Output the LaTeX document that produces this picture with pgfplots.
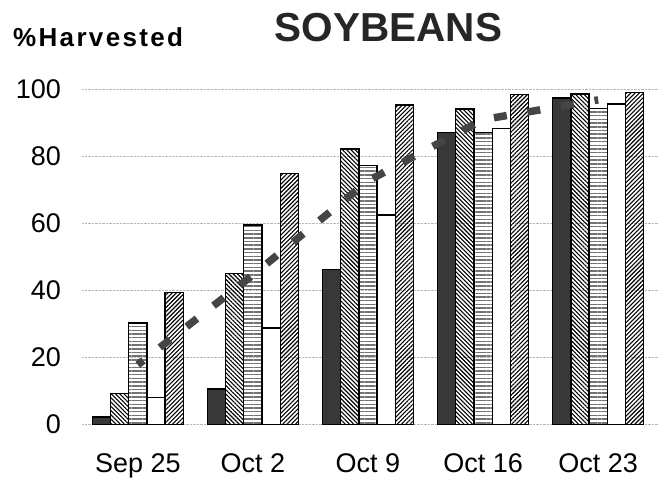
\documentclass[border=0pt]{standalone}
\usepackage{pgfplots}
\pgfplotsset{compat=1.18}
\usepackage{fontspec}
\setmainfont{Liberation Sans}
\usetikzlibrary{patterns.meta}
\definecolor{darkbar}{gray}{0.22}
\definecolor{trend}{gray}{0.27}
\begin{document}
\begin{tikzpicture}
\useasboundingbox (0pt,0pt) rectangle (664pt,482pt);
\node[anchor=base, inner sep=0pt, font=\fontsize{40.5}{45}\selectfont\bfseries, text=black!85] at (388.5pt,440.3pt) {SOYBEANS};
\node[anchor=base west, inner sep=0pt, font=\fontsize{26}{28}\selectfont\bfseries\addfontfeature{LetterSpace=9}] at (13pt,435pt) {\%Harvested};
\begin{axis}[
  at={(82pt,57.7pt)}, anchor=south west,
  scale only axis, width=576pt, height=334.8pt,
  xmin=-0.485, xmax=4.52, ymin=0, ymax=100,
  clip=false,
  ybar=0pt, bar width=0.158,
  axis line style={draw=none},
  major tick length=0pt,
  ymajorgrids,
  major grid style={densely dotted, gray!55, line width=0.7pt},
  ytick={0,20,40,60,80,100},
  xtick={0,1,2,3,4},
  xticklabels={Sep 25, Oct 2, Oct 9, Oct 16, Oct 23},
  /pgf/number format/assume math mode=true,
  ticklabel style={font=\fontsize{27}{30}\selectfont, inner sep=0pt},
  yticklabel style={anchor=east, xshift=-21pt},
  xticklabel style={anchor=base, yshift=-48pt},
  every axis plot/.append style={draw=black, line width=1.3pt},
]
\addplot[fill=darkbar, bar shift=-0.316] coordinates {(0,2.2) (1,10.5) (2,46.3) (3,87.2) (4,97.5)};
\addplot[pattern={Lines[angle=-45,distance=3pt,line width=1.1pt]}, bar shift=-0.158] coordinates {(0,9.2) (1,45) (2,82.2) (3,94.2) (4,98.7)};
\addplot[pattern={Lines[angle=0,distance=3.7pt,line width=1.5pt]}, pattern color=black!55, bar shift=0] coordinates {(0,30.3) (1,59.5) (2,77.4) (3,87.2) (4,94.3)};
\addplot[fill=white, bar shift=0.158] coordinates {(0,8) (1,28.8) (2,62.5) (3,88.3) (4,95.7)};
\addplot[pattern={Lines[angle=45,distance=3pt,line width=1.1pt]}, bar shift=0.316] coordinates {(0,39.3) (1,75) (2,95.4) (3,98.5) (4,99.2)};
\addplot[sharp plot, no marks, fill=none, draw=trend, line width=7.5pt, dash pattern=on 13pt off 21pt, dash phase=6pt] coordinates {(0,17.8) (1,44.6) (2,72.7) (3,91) (4,96.9)};
\end{axis}
\end{tikzpicture}
\end{document}
